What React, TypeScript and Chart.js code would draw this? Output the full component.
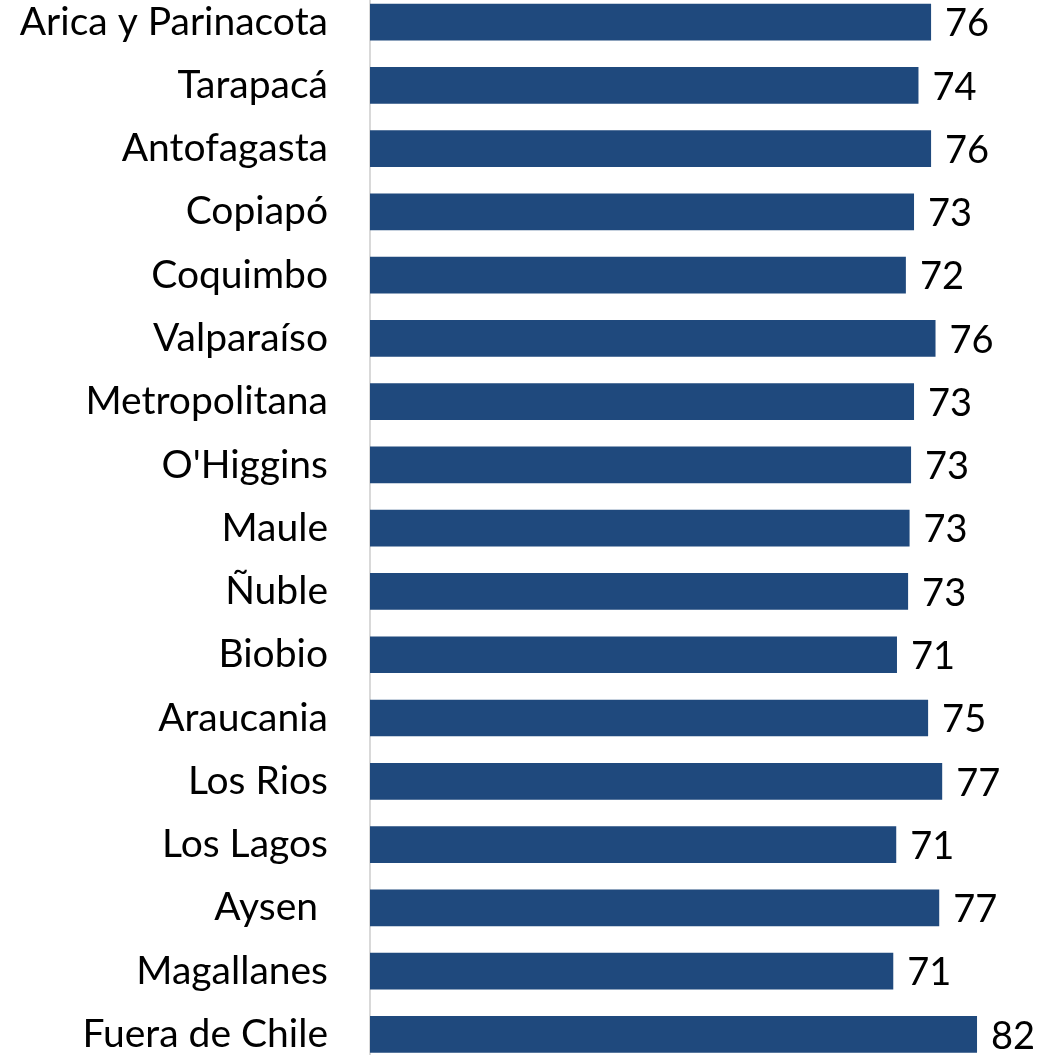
import React, { useEffect, useRef } from "react";
import { Chart, registerables } from "chart.js";

Chart.register(...registerables);

const categories: string[] = [
  "Arica y Parinacota",
  "Tarapacá",
  "Antofagasta",
  "Copiapó",
  "Coquimbo",
  "Valparaíso",
  "Metropolitana",
  "O'Higgins",
  "Maule",
  "Ñuble",
  "Biobio",
  "Araucania",
  "Los Rios",
  "Los Lagos",
  "Aysen ",
  "Magallanes",
  "Fuera de Chile",
];

const values: number[] = [
  75.7, 74.0, 75.7, 73.4, 72.3, 76.3, 73.4, 73.0, 72.8, 72.6, 71.1, 75.3, 77.2, 71.0, 76.8, 70.6, 81.9,
];

const X_MIN = 0;
const X_MAX = 93;

const BAR_COLOR = "#1F497D";
const FONT_FAMILY = "Lato, 'Open Sans', sans-serif";

const valueLabelPlugin = {
  id: "valueLabels",
  afterDatasetsDraw(chart: any) {
    const ctx = chart.ctx;
    const meta = chart.getDatasetMeta(0);
    ctx.save();
    ctx.font = `38px ${FONT_FAMILY}`;
    ctx.fillStyle = "#000000";
    ctx.textAlign = "left";
    ctx.textBaseline = "middle";
    meta.data.forEach((bar: any, i: number) => {
      const v = chart.data.datasets[0].data[i] as number;
      ctx.fillText(String(Math.round(v)), bar.x + 14, bar.y + 2);
    });
    ctx.restore();
  },
};

export default function App() {
  const canvasRef = useRef<HTMLCanvasElement | null>(null);

  useEffect(() => {
    if (!canvasRef.current) return;
    const chart = new Chart(canvasRef.current, {
      type: "bar",
      data: {
        labels: categories,
        datasets: [
          {
            data: values,
            backgroundColor: BAR_COLOR,
            borderWidth: 0,
            barPercentage: 0.58,
            categoryPercentage: 1,
          },
        ],
      },
      options: {
        indexAxis: "y",
        animation: false,
        responsive: false,
        maintainAspectRatio: false,
        layout: { padding: { top: 10.4, bottom: 14, left: 0, right: 3.7 } },
        plugins: {
          legend: { display: false },
          tooltip: { enabled: false },
          title: { display: false },
        },
        scales: {
          x: {
            display: false,
            min: X_MIN,
            max: X_MAX,
          },
          y: {
            grid: { display: false, drawTicks: false },
            border: { display: true, color: "#d9d9d9", width: 2 },
            ticks: {
              padding: 42,
              color: "#000000",
              font: { family: FONT_FAMILY, size: 39 },
            },
            afterFit(axis: any) {
              axis.width = 370;
              axis.paddingTop = 0;
              axis.paddingBottom = 0;
            },
          },
        },
      },
      plugins: [valueLabelPlugin],
    });
    return () => chart.destroy();
  }, []);

  return (
    <div
      style={{
        position: "fixed",
        left: 0,
        top: -20,
        width: 1063,
        height: 1100,
        background: "#ffffff",
      }}
    >
      <canvas ref={canvasRef} width={1063} height={1100} style={{ display: "block" }} />
    </div>
  );
}
